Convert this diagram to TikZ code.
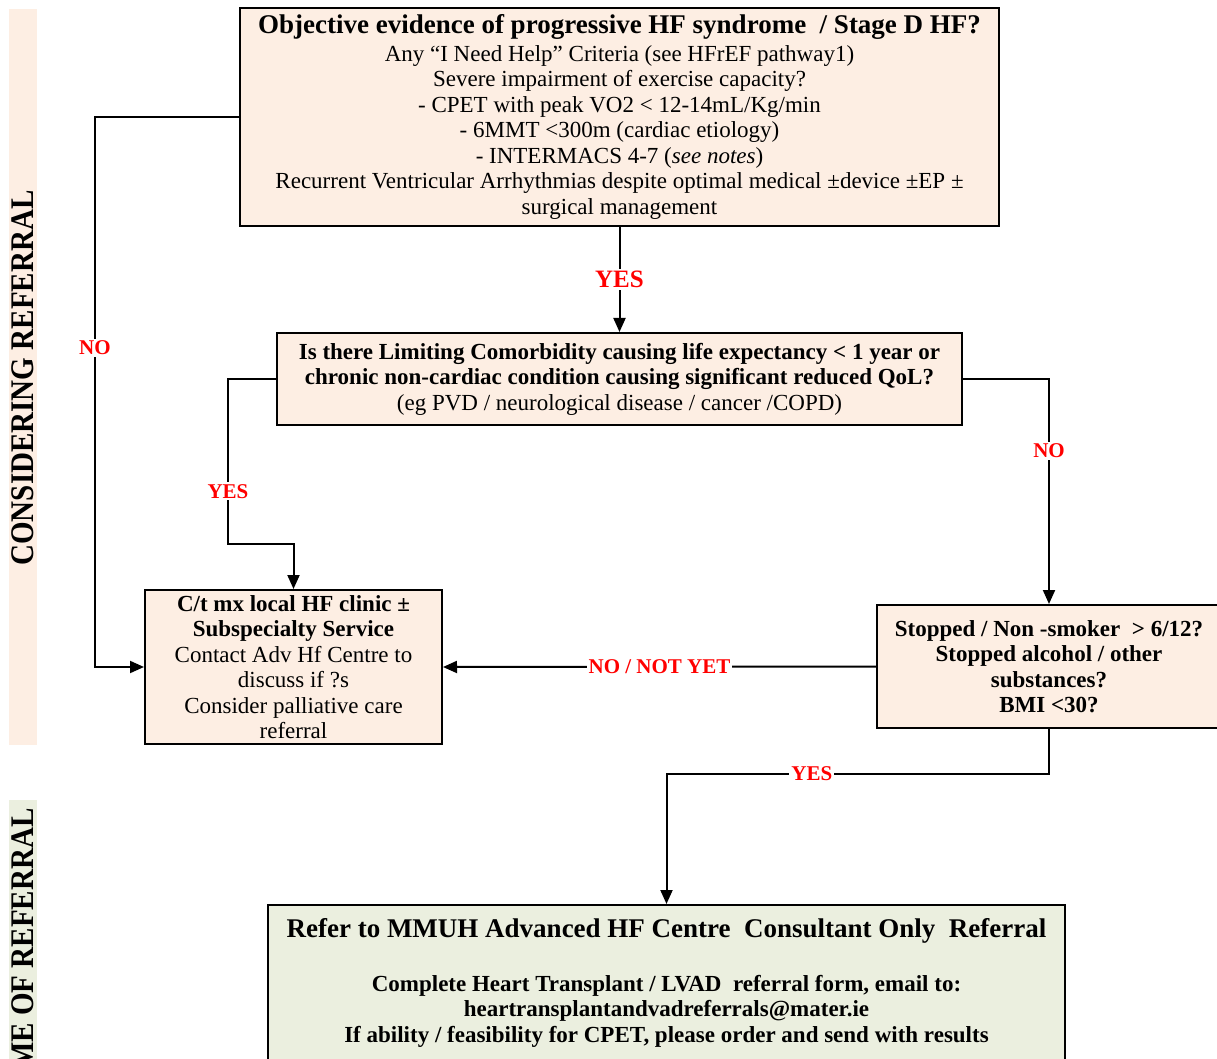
\documentclass[tikz,border=0pt]{standalone}
\usepackage{fontspec}
\setmainfont{Liberation Serif}
\usetikzlibrary{arrows.meta,positioning,calc}

\definecolor{peach}{HTML}{FDEEE3}
\definecolor{sage}{HTML}{EBEFDF}
\definecolor{lblred}{HTML}{FF0000}

\begin{document}
\begin{tikzpicture}[
    x=0.5pt, y=-0.5pt,
    box/.style={draw, line width=1pt, fill=peach, align=center, inner sep=0pt,
        font=\fontsize{11.5}{12.75}\selectfont},
    lbl/.style={text=lblred, fill=white, font=\fontsize{10.5}{12}\selectfont\bfseries, inner sep=1pt},
    band/.style={font=\fontsize{16.5}{18}\selectfont\bfseries, rotate=90, inner sep=0pt},
    arr/.style={-{Triangle[length=7pt,width=6pt]}, line width=1pt}
]
\useasboundingbox (0,0) rectangle (1217,1059);
\clip (0,0) rectangle (1217,1059);

% side bands
\fill[peach] (9,9) rectangle (37,745);
\fill[sage] (9,800) rectangle (37,1070);
\node[band] (bandA) at (23,378) {\scalebox{0.88}[1]{CONSIDERING REFERRAL}};
\node[band, anchor=east] (bandB) at (23,808) {\scalebox{0.88}[1]{ME OF REFERRAL}};

% boxes
\node[box, minimum width=379.5pt, minimum height=109pt] (stageD) at (619.5,117)
    {{\fontsize{13.5}{15}\selectfont\bfseries Objective evidence of progressive HF syndrome\ \ / Stage D HF?}\\[1pt]
     Any “I Need Help” Criteria (see HFrEF pathway1)\\
     Severe impairment of exercise capacity?\\
     - CPET with peak VO2 < 12-14mL/Kg/min\\
     - 6MMT <300m (cardiac etiology)\\
     - INTERMACS 4-7 (\textit{see notes})\\
     Recurrent Ventricular Arrhythmias despite optimal medical ±device ±EP ±\\
     surgical management};
\node[box, minimum width=342.5pt, minimum height=46pt] (comorb) at (619.5,379)
    {\textbf{Is there Limiting Comorbidity causing life expectancy < 1 year or}\\
     \textbf{chronic non-cardiac condition causing significant reduced QoL?}\\
     (eg PVD / neurological disease / cancer /COPD)};
\node[box, minimum width=148.5pt, minimum height=77pt] (local) at (293.5,667)
    {\textbf{C/t mx local HF clinic ±}\\
     \textbf{Subspecialty Service}\\
     Contact Adv Hf Centre to\\
     discuss if ?s\\
     Consider palliative care\\
     referral};
\node[box, minimum width=172pt, minimum height=61.5pt, font=\fontsize{11.5}{12.75}\selectfont\bfseries] (habits) at (1049,666.5)
    {Stopped / Non -smoker\ \ > 6/12?\\
     Stopped alcohol / other\\
     substances?\\
     BMI <30?};
\node[box, fill=sage, minimum width=398.5pt, minimum height=78pt, font=\fontsize{11.5}{12.75}\selectfont\bfseries] (refer) at (666.5,983)
    {{\fontsize{13.5}{15}\selectfont Refer to MMUH Advanced HF Centre\ \ Consultant Only\ \ Referral}\\[14pt]
     Complete Heart Transplant / LVAD\ \ referral form, email to:\\
     heartransplantandvadreferrals@mater.ie\\
     If ability / feasibility for CPET, please order and send with results};

% connectors
\draw[arr] (stageD) -- node[lbl, font=\fontsize{12.5}{14}\selectfont\bfseries]{YES} (comorb);
\draw[arr] (stageD.west) -- ++(-144,0) |- node[lbl, pos=0.21]{NO} (local.west);
\draw[arr] (comorb.west) -- ++(-48,0) -- node[lbl, pos=0.68]{YES} ++(0,165) -| (local.north);
\draw[arr] (comorb.east) -| node[lbl, pos=0.66]{NO} (habits.north);
\draw[arr] (habits.west) -- node[lbl]{NO / NOT YET} (local.east);
\draw[arr] (habits.south) -- ++(0,45) -| node[lbl, pos=0.31]{YES} (refer.north);
\end{tikzpicture}
\end{document}
